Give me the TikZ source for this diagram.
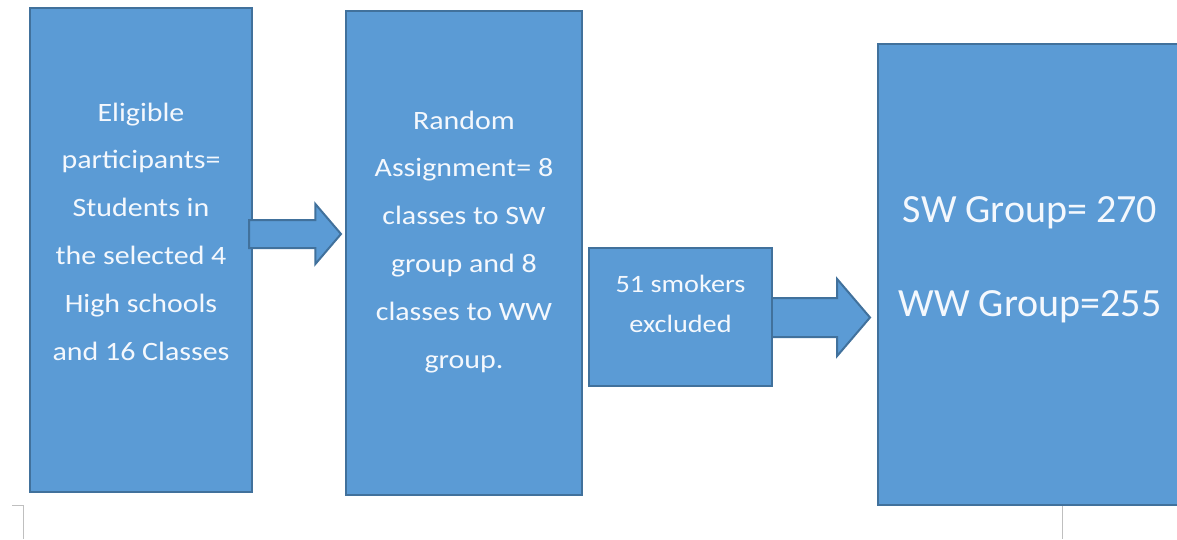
\documentclass[tikz,border=0pt]{standalone}
\usepackage{fontspec}
\setmainfont{Carlito}
\newfontfamily\boxfont[FakeStretch=1.13]{Carlito}
\newfontfamily\bigfont{Carlito}
\usetikzlibrary{shapes.arrows}
\definecolor{officeblue}{HTML}{5B9BD5}
\definecolor{officeedge}{HTML}{41719C}
\definecolor{marggrey}{HTML}{BFBFBF}
\definecolor{txtwhite}{HTML}{F4F8FD}
\tikzset{
  bluebox/.style={draw=officeedge, fill=officeblue, line width=2pt, rectangle, inner sep=0pt},
  blockarrow/.style={draw=officeedge, fill=officeblue, line width=2pt, single arrow, inner xsep=0pt, single arrow tip angle=99, anchor=tail},
  boxtext/.style={text=txtwhite, align=center, inner sep=0pt, anchor=base, font=\boxfont\fontsize{26.5}{47.8}\selectfont},
  smalltext/.style={text=txtwhite, align=center, inner sep=0pt, anchor=base, font=\boxfont\fontsize{25}{40}\selectfont},
  bigtext/.style={text=txtwhite, align=center, inner sep=0pt, anchor=base, font=\bigfont\fontsize{40}{94.4}\selectfont},
  margin/.style={draw=marggrey, line width=1pt}
}
\begin{document}
\begin{tikzpicture}[x=1pt,y=-1pt]
\useasboundingbox (0,0) rectangle (1177,539);
% boxes
\node[bluebox, minimum width=222, minimum height=484] (b1) at (141,250) {};
\node[bluebox, minimum width=236, minimum height=484] (b2) at (464,253) {};
\node[bluebox, minimum width=304, minimum height=461] (b4) at (1030,274.5) {};
% arrows
\node[blockarrow, inner ysep=13pt, minimum height=92, single arrow head extend=16pt] (a1) at (248,234) {};
\node[blockarrow, inner ysep=18.5pt, minimum height=100, single arrow head extend=19pt] (a2) at (769,317.5) {};
\node[bluebox, minimum width=183, minimum height=138] (b3) at (680.5,317) {};
% texts
\node[boxtext] (t1) at (141,360) {Eligible\\participants=\\Students in\\the selected 4\\High schools\\and 16 Classes};
\node[boxtext] (t2) at (464,368) {Random\\Assignment= 8\\classes to SW\\group and 8\\classes to WW\\group.};
\node[smalltext] (t3) at (680.5,332) {51 smokers\\excluded};
\node[bigtext] (t4) at (1030,316.7) {SW Group= 270\\WW Group=255};
% page margin marks
\draw[margin] (12,505) -- (23,505) -- (23,539);
\draw[margin] (1062,506) -- (1062,539);
\end{tikzpicture}
\end{document}
